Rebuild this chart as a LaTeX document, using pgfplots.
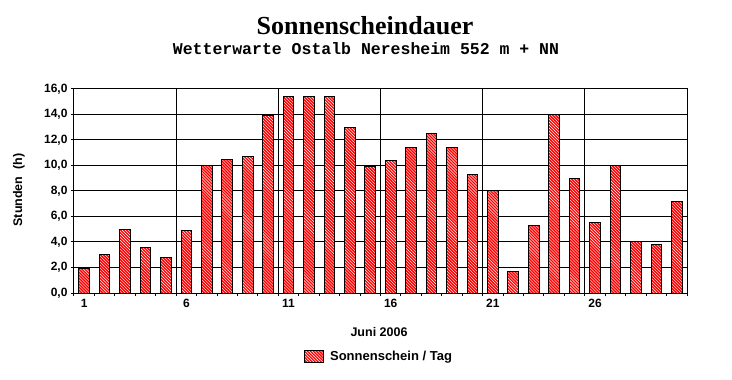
\documentclass[border=0pt]{standalone}
\usepackage{fontspec}
\setmainfont{Liberation Sans}
\newfontfamily\titlefont{Liberation Serif}
\newfontfamily\subfont{Liberation Mono}
\usepackage{pgfplots}
\usepackage{pgfplotstable}
\pgfplotsset{compat=1.18}
\usetikzlibrary{patterns}
\pgfplotsset{mybarlegend/.style={legend image code/.code={\draw[##1] (0bp,-6bp) rectangle (19bp,6bp);}}}

\pgfplotstableread{
day val
1 1.9
2 3.0
3 5.0
4 3.6
5 2.8
6 4.9
7 10.0
8 10.5
9 10.7
10 13.9
11 15.4
12 15.4
13 15.4
14 13.0
15 9.9
16 10.4
17 11.4
18 12.5
19 11.4
20 9.3
21 8.0
22 1.7
23 5.3
24 14.0
25 9.0
26 5.5
27 10.0
28 4.0
29 3.8
30 7.2
}\sundata

\begin{document}
\begin{tikzpicture}
\begin{axis}[
  scale only axis, width=613bp, height=204bp,
  xmin=0.5, xmax=30.5, ymin=0, ymax=16,
  ybar, bar width=10.7bp,
  axis line style={black, line width=1bp},
  tick pos=left, tick align=outside,
  major tick length=3bp, minor tick length=3bp,
  tick style={black, line width=1bp},
  xtick={1,6,11,16,21,26},
  major x tick style={draw=none},
  minor xtick={0.5,1.5,...,30.5},
  extra x ticks={5.5,10.5,15.5,20.5,25.5},
  extra x tick labels={},
  extra x tick style={grid=major},
  ytick={0,2,...,16},
  ymajorgrids,
  major grid style={black, line width=1bp},
  /pgf/number format/assume math mode=true,
  yticklabel style={/pgf/number format/fixed, /pgf/number format/fixed zerofill,
    /pgf/number format/precision=1, /pgf/number format/use comma},
  tick label style={font=\bfseries\fontsize{12bp}{14bp}\selectfont},
  xlabel={Juni 2006},
  xlabel style={at={(axis description cs:0.4976,-0.19)}, anchor=center,
    font=\bfseries\fontsize{12.5bp}{15bp}\selectfont},
  ylabel={Stunden\ \ (h)},
  ylabel style={at={(axis description cs:-0.0897,0.505)}, anchor=center, rotate=0,
    font=\bfseries\fontsize{12.5bp}{15bp}\selectfont},
  legend style={at={(axis description cs:0.4976,-0.3137)}, anchor=center,
    draw=none, fill=none, font=\bfseries\fontsize{13bp}{15bp}\selectfont},
]
\addplot[fill=red, draw=black, line width=1bp,
  postaction={pattern=north west lines, pattern color=white},
  mybarlegend]
  table[x=day, y=val]{\sundata};
\addlegendentry{\hspace{4bp}Sonnenschein / Tag}
\end{axis}
\node[anchor=base, font=\titlefont\bfseries\fontsize{26bp}{28bp}\selectfont] at (291bp,258bp) {Sonnenscheindauer};
\node[anchor=base, font=\subfont\bfseries\fontsize{16.5bp}{18bp}\selectfont] at (292bp,238bp) {Wetterwarte Ostalb Neresheim 552 m + NN};
\pgfresetboundingbox
\useasboundingbox (-74bp,-87bp) rectangle (658bp,293bp);
\end{tikzpicture}
\end{document}
